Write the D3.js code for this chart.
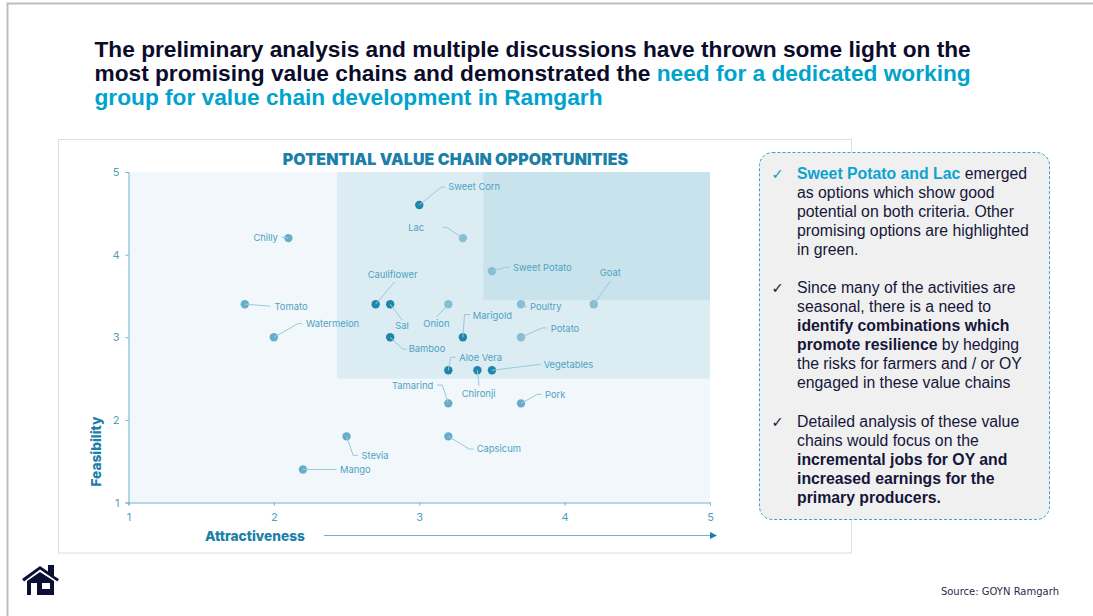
<!DOCTYPE html>
<html>
<head>
<meta charset="utf-8">
<script src="https://cdn.jsdelivr.net/npm/d3@7"></script>
<style>
  html, body { margin: 0; padding: 0; background: #fff; overflow: hidden; }
  svg { display: block; }
  .slide { font-family: "Liberation Sans", Arial, sans-serif; }
  .chart { font-family: Inter, Roboto, sans-serif; }
</style>
</head>
<body>
<div id="chart"></div>
<script>
let width = 1093
let height = 616

// values
let crops = ['Sweet Corn','Lac','Chilly','Sweet Potato','Goat','Poultry','Tomato','Cauliflower','Sal','Onion','Marigold','Potato','Watermelon','Bamboo','Aloe Vera','Chironji','Vegetables','Tamarind','Pork','Capsicum','Stevia','Mango']
let attractiveness = [3,3.3,2.1,3.5,4.2,3.7,1.8,2.7,2.8,3.2,3.3,3.7,2,2.8,3.2,3.4,3.5,3.2,3.7,3.2,2.5,2.2]
let feasibility = [4.6,4.2,4.2,3.8,3.4,3.4,3.4,3.4,3.4,3.4,3,3,3,3,2.6,2.6,2.6,2.2,2.2,1.8,1.8,1.4]
let shade = ['dark','light','mid','light','light','light','mid','dark','dark','light','dark','light','mid','dark','dark','dark','dark','mid','mid','mid','mid','mid']
let ticks = [1,2,3,4,5]

// the two shaded zones: [x from, y from]
let zones = [[2.435,2.5],[3.44,3.45]]

// where each label and its leader sit, in px from the point
let labelPlace = {
  'Sweet Corn': {line:[[22,-18],[26,-18]], dx:29, dy:-15},
  'Lac': {line:[[-16,-10.7],[-20,-10.7]], dx:-38.7, dy:-7, end:true},
  'Chilly': {line:[[-7,-1]], dx:-10.5, dy:3, end:true},
  'Sweet Potato': {line:[[12.7,-3.7],[17.7,-3.7]], dx:21, dy:0},
  'Goat': {line:[[16.7,-23.3]], dx:6, dy:-28},
  'Poultry': {line:[[5.7,2.7]], dx:9, dy:6},
  'Tomato': {line:[[25.7,2]], dx:29.7, dy:5.3},
  'Cauliflower': {line:[[19,-22.3]], dx:-8, dy:-26},
  'Sal': {line:[[12.2,16]], dx:5, dy:25},
  'Onion': {line:[[-11.6,12.7]], dx:-25, dy:23},
  'Marigold': {line:[[1.7,-22.7],[7.4,-22.7]], dx:10, dy:-18},
  'Potato': {line:[[21.3,-9.3],[25.7,-9.3]], dx:29.7, dy:-5.7},
  'Watermelon': {line:[[24.3,-13.7],[28,-13.7]], dx:32, dy:-10},
  'Bamboo': {line:[[12.8,12],[16.5,12]], dx:18.5, dy:14.7},
  'Aloe Vera': {line:[[2.4,-13],[7.4,-13]], dx:11, dy:-9.6},
  'Chironji': {line:[[1.6,15.4]], dx:-15.7, dy:26.4},
  'Vegetables': {line:[[48.7,-6]], dx:51.7, dy:-2.3},
  'Tamarind': {line:[[-6,-18.3],[-11.3,-18.3]], dx:-15, dy:-14.6, end:true},
  'Pork': {line:[[16.3,-9],[20.7,-9]], dx:24, dy:-5.3},
  'Capsicum': {line:[[21,12.7],[25.4,12.7]], dx:28.4, dy:15.7},
  'Stevia': {line:[[6.6,19],[11.3,19]], dx:15, dy:22.3},
  'Mango': {line:[[33.7,0]], dx:37, dy:3.5}
}

let titleLines = [
  [['The preliminary analysis and multiple discussions have thrown some light on the', false]],
  [['most promising value chains and demonstrated the ', false], ['need for a dedicated working', true]],
  [['group for value chain development in Ramgarh', true]]
]
let titleBase = [57, 81, 105]

// each run: text, bold, blue
let notes = [
  {tick:'#1c9ac4', top:178.5, lines:[
    [['Sweet Potato and Lac', true, true], [' emerged']],
    [['as options which show good']],
    [['potential on both criteria. Other']],
    [['promising options are highlighted']],
    [['in green.']]
  ]},
  {tick:'#15163a', top:292.5, lines:[
    [['Since many of the activities are']],
    [['seasonal, there is a need to']],
    [['identify combinations which', true]],
    [['promote resilience', true], [' by hedging']],
    [['the risks for farmers and / or OY']],
    [['engaged in these value chains']]
  ]},
  {tick:'#15163a', top:426.5, lines:[
    [['Detailed analysis of these value']],
    [['chains would focus on the']],
    [['incremental jobs for OY and', true]],
    [['increased earnings for the', true]],
    [['primary producers.', true]]
  ]}
]

let svg = d3.select('#chart').append('svg')
  .attr('width', width)
  .attr('height', height)

// slide edge
svg.append('path')
  .attr('d', 'M7.5,616V3.5H1093')
  .attr('fill', 'none')
  .attr('stroke', '#bdbdbd')
  .attr('stroke-width', 2)

// headline
let title = svg.append('g').attr('class', 'slide')
titleLines.forEach((runs, i) => {
  let t = title.append('text')
    .attr('x', 94.5)
    .attr('y', titleBase[i])
    .attr('font-size', 22.7)
    .attr('font-weight', 700)
  runs.forEach((r) => {
    t.append('tspan')
      .attr('fill', r[1] ? '#00a3cc' : '#0b0b2a')
      .text(r[0])
  })
})

// chart frame
svg.append('rect')
  .attr('x', 58.5).attr('y', 139.5)
  .attr('width', 793).attr('height', 413.5)
  .attr('fill', '#fff')
  .attr('stroke', '#cfe3ea')

let xScale = d3.scaleLinear().domain([1,5]).range([128.5,710])
let yScale = d3.scaleLinear().domain([1,5]).range([502.5,172])

let chart = svg.append('g').attr('class', 'chart')

chart.append('rect')
  .attr('x', xScale(1)).attr('y', yScale(5))
  .attr('width', xScale(5)-xScale(1)).attr('height', yScale(1)-yScale(5))
  .attr('fill', '#f1f7fb')

let zoneFill = ['#dbecf3','#c9e3ec']
chart.selectAll('.zone')
  .data(zones)
  .enter().append('rect')
  .attr('class', 'zone')
  .attr('x', (d) => xScale(d[0]))
  .attr('y', yScale(5))
  .attr('width', (d) => xScale(5)-xScale(d[0]))
  .attr('height', (d) => yScale(d[1])-yScale(5))
  .attr('fill', (d,i) => zoneFill[i])

let styleAxis = (g) => {
  g.selectAll('path,line').attr('stroke', '#6fb2ca').attr('stroke-width', 1)
  g.selectAll('text')
    .attr('fill', '#4f9fbf')
    .attr('font-size', 11)
    .attr('font-family', 'Inter, Roboto, sans-serif')
}

chart.append('g')
  .attr('transform', 'translate('+xScale(1)+',0)')
  .call(d3.axisLeft(yScale).tickValues(ticks).tickSize(3).tickSizeOuter(3).tickPadding(6).tickFormat(d3.format('d')))
  .call(styleAxis)

chart.append('g')
  .attr('transform', 'translate(0,'+yScale(1)+')')
  .call(d3.axisBottom(xScale).tickValues(ticks).tickSize(3).tickSizeOuter(3).tickPadding(8).tickFormat(d3.format('d')))
  .call(styleAxis)

let pointColor = d3.scaleOrdinal()
  .domain(['dark','mid','light'])
  .range(['#1f85aa','#66aec8','#86bed3'])

let points = crops.map((name, i) => ({
  name: name,
  cx: xScale(attractiveness[i]),
  cy: yScale(feasibility[i]),
  shade: shade[i],
  place: labelPlace[name]
}))

chart.selectAll('circle')
  .data(points)
  .enter().append('circle')
  .attr('cx', (d) => d.cx)
  .attr('cy', (d) => d.cy)
  .attr('r', 4.2)
  .attr('fill', (d) => pointColor(d.shade))

let leader = d3.line()
chart.selectAll('.leader')
  .data(points)
  .enter().append('path')
  .attr('class', 'leader')
  .attr('d', (d) => leader([[0,0]].concat(d.place.line).map((p) => [d.cx+p[0], d.cy+p[1]])))
  .attr('fill', 'none')
  .attr('stroke', '#97cadb')
  .attr('stroke-width', 1)

chart.selectAll('.crop')
  .data(points)
  .enter().append('text')
  .attr('class', 'crop')
  .attr('x', (d) => d.cx + d.place.dx)
  .attr('y', (d) => d.cy + d.place.dy)
  .attr('text-anchor', (d) => d.place.end ? 'end' : 'start')
  .attr('font-size', 9.4)
  .attr('fill', '#4fa3c2')
  .text((d) => d.name)

chart.append('text')
  .attr('x', 455.5).attr('y', 165)
  .attr('text-anchor', 'middle')
  .attr('font-size', 15.9)
  .attr('font-weight', 900)
  .attr('letter-spacing', 0.15)
  .attr('fill', '#1a80a8')
  .text('POTENTIAL VALUE CHAIN OPPORTUNITIES')

chart.append('text')
  .attr('x', 205).attr('y', 541)
  .attr('font-size', 13.7)
  .attr('font-weight', 800)
  .attr('fill', '#1a80a8')
  .text('Attractiveness')

chart.append('text')
  .attr('transform', 'translate(101,451.5) rotate(-90)')
  .attr('text-anchor', 'middle')
  .attr('font-size', 13.7)
  .attr('font-weight', 800)
  .attr('fill', '#1a80a8')
  .text('Feasibility')

chart.append('line')
  .attr('x1', 324).attr('x2', 711)
  .attr('y1', 535.5).attr('y2', 535.5)
  .attr('stroke', '#6fb2ca')
chart.append('path')
  .attr('d', 'M710,532L717,535.5L710,539Z')
  .attr('fill', '#1a80a8')

// notes panel
svg.append('rect')
  .attr('x', 759.5).attr('y', 152.5)
  .attr('width', 290).attr('height', 367)
  .attr('rx', 13)
  .attr('fill', '#f0f0f0')
  .attr('stroke', '#2aa9cf')
  .attr('stroke-dasharray', '3 2')

let panel = svg.append('g').attr('class', 'slide').attr('font-size', 15.8)
notes.forEach((note) => {
  panel.append('text')
    .attr('x', 771.5).attr('y', note.top)
    .attr('font-family', 'DejaVu Sans')
    .attr('font-size', 14.5)
    .attr('fill', note.tick)
    .text('\u2713')
  note.lines.forEach((runs, i) => {
    let t = panel.append('text')
      .attr('x', 797)
      .attr('y', note.top + i * 19)
    runs.forEach((r) => {
      t.append('tspan')
        .attr('font-weight', r[1] ? 700 : 400)
        .attr('fill', r[2] ? '#0ca4cf' : '#15163a')
        .text(r[0])
    })
  })
})

// home icon
svg.append('path')
  .attr('d', 'M22,579L40,566L48,571.5V565H54V576L59,579L57.5,581.5L40,569.5L24,581.5Z M27,581L40,572L54,581V595H27Z M31,583V595H37V583Z M42,583V589H50V583Z')
  .attr('fill', '#0b0f33')
  .attr('fill-rule', 'evenodd')

svg.append('text')
  .attr('x', 1059).attr('y', 595)
  .attr('text-anchor', 'end')
  .attr('font-family', 'DejaVu Sans')
  .attr('font-size', 10)
  .attr('fill', '#2a2c4a')
  .text('Source: GOYN Ramgarh')
</script>
</body>
</html>
